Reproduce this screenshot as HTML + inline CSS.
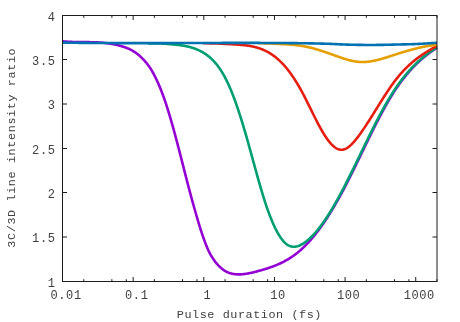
<!DOCTYPE html>
<html><head><meta charset="utf-8"><title>plot</title><style>html,body{margin:0;padding:0;background:#fff;overflow:hidden}</style></head><body>
<svg width="460" height="322" viewBox="0 0 460 322" style="display:block;will-change:transform">
<rect width="460" height="322" fill="#fff"/>
<g fill="none" stroke-width="2.6" stroke-linejoin="round" stroke-linecap="butt">
<path stroke="#9400d3" d="M62.5,41.31 L63.0,41.36 L63.5,41.40 L64.0,41.45 L64.5,41.49 L65.0,41.53 L65.5,41.57 L66.0,41.61 L66.5,41.64 L67.0,41.67 L67.5,41.71 L68.0,41.73 L68.5,41.76 L69.0,41.79 L69.5,41.81 L70.0,41.84 L70.5,41.86 L71.0,41.88 L71.5,41.90 L72.0,41.92 L72.5,41.94 L73.0,41.95 L73.5,41.97 L74.0,41.98 L74.5,41.99 L75.0,42.00 L75.5,42.02 L76.0,42.03 L76.5,42.03 L77.0,42.04 L77.5,42.05 L78.0,42.06 L78.5,42.06 L79.0,42.07 L79.5,42.08 L80.0,42.08 L80.5,42.09 L81.0,42.09 L81.5,42.10 L82.0,42.10 L82.5,42.10 L83.0,42.11 L83.5,42.11 L84.0,42.12 L84.5,42.12 L85.0,42.12 L85.5,42.13 L86.0,42.13 L86.5,42.14 L87.0,42.14 L87.5,42.15 L88.0,42.15 L88.5,42.16 L89.0,42.17 L89.5,42.17 L90.0,42.18 L90.5,42.19 L91.0,42.20 L91.5,42.21 L92.0,42.22 L92.5,42.23 L93.0,42.25 L93.5,42.26 L94.0,42.27 L94.5,42.29 L95.0,42.31 L95.5,42.33 L96.0,42.35 L96.5,42.37 L97.0,42.39 L97.5,42.41 L98.0,42.44 L98.5,42.46 L99.0,42.49 L99.5,42.52 L100.0,42.55 L100.5,42.59 L101.0,42.62 L101.5,42.66 L102.0,42.70 L102.5,42.74 L103.0,42.78 L103.5,42.82 L104.0,42.87 L104.5,42.92 L105.0,42.97 L105.5,43.02 L106.0,43.08 L106.5,43.14 L107.0,43.20 L107.5,43.26 L108.0,43.32 L108.5,43.39 L109.0,43.46 L109.5,43.54 L110.0,43.61 L110.5,43.69 L111.0,43.77 L111.5,43.86 L112.0,43.94 L112.5,44.03 L113.0,44.13 L113.5,44.22 L114.0,44.32 L114.5,44.42 L115.0,44.53 L115.5,44.64 L116.0,44.75 L116.5,44.87 L117.0,44.99 L117.5,45.11 L118.0,45.23 L118.5,45.36 L119.0,45.50 L119.5,45.63 L120.0,45.78 L120.5,45.91 L121.0,46.05 L121.5,46.19 L122.0,46.33 L122.5,46.48 L123.0,46.63 L123.5,46.79 L124.0,46.96 L124.5,47.12 L125.0,47.30 L125.5,47.47 L126.0,47.66 L126.5,47.85 L127.0,48.05 L127.5,48.25 L128.0,48.46 L128.5,48.68 L129.0,48.90 L129.5,49.13 L130.0,49.37 L130.5,49.62 L131.0,49.88 L131.5,50.14 L132.0,50.41 L132.5,50.69 L133.0,50.99 L133.5,51.29 L134.0,51.60 L134.5,51.92 L135.0,52.25 L135.5,52.59 L136.0,52.95 L136.5,53.31 L137.0,53.68 L137.5,54.07 L138.0,54.47 L138.5,54.88 L139.0,55.30 L139.5,55.73 L140.0,56.17 L140.5,56.63 L141.0,57.10 L141.5,57.58 L142.0,58.08 L142.5,58.58 L143.0,59.10 L143.5,59.62 L144.0,60.16 L144.5,60.71 L145.0,61.27 L145.5,61.85 L146.0,62.44 L146.5,63.05 L147.0,63.68 L147.5,64.32 L148.0,64.98 L148.5,65.66 L149.0,66.35 L149.5,67.07 L150.0,67.82 L150.5,68.58 L151.0,69.37 L151.5,70.18 L152.0,71.01 L152.5,71.87 L153.0,72.76 L153.5,73.67 L154.0,74.60 L154.5,75.56 L155.0,76.54 L155.5,77.54 L156.0,78.57 L156.5,79.62 L157.0,80.69 L157.5,81.78 L158.0,82.89 L158.5,84.03 L159.0,85.19 L159.5,86.37 L160.0,87.56 L160.5,88.79 L161.0,90.03 L161.5,91.31 L162.0,92.61 L162.5,93.93 L163.0,95.29 L163.5,96.66 L164.0,98.06 L164.5,99.49 L165.0,100.94 L165.5,102.42 L166.0,103.92 L166.5,105.45 L167.0,107.00 L167.5,108.57 L168.0,110.17 L168.5,111.79 L169.0,113.43 L169.5,115.10 L170.0,116.78 L170.5,118.48 L171.0,120.19 L171.5,121.93 L172.0,123.67 L172.5,125.44 L173.0,127.22 L173.5,129.01 L174.0,130.83 L174.5,132.66 L175.0,134.50 L175.5,136.36 L176.0,138.23 L176.5,140.11 L177.0,142.01 L177.5,143.91 L178.0,145.82 L178.5,147.75 L179.0,149.68 L179.5,151.62 L180.0,153.56 L180.5,155.51 L181.0,157.46 L181.5,159.42 L182.0,161.38 L182.5,163.34 L183.0,165.30 L183.5,167.26 L184.0,169.22 L184.5,171.18 L185.0,173.14 L185.5,175.10 L186.0,177.05 L186.5,178.99 L187.0,180.93 L187.5,182.87 L188.0,184.79 L188.5,186.71 L189.0,188.62 L189.5,190.51 L190.0,192.40 L190.5,194.28 L191.0,196.14 L191.5,197.99 L192.0,199.82 L192.5,201.64 L193.0,203.44 L193.5,205.23 L194.0,207.00 L194.5,208.76 L195.0,210.51 L195.5,212.26 L196.0,214.00 L196.5,215.74 L197.0,217.46 L197.5,219.17 L198.0,220.87 L198.5,222.54 L199.0,224.20 L199.5,225.84 L200.0,227.46 L200.5,229.06 L201.0,230.62 L201.5,232.16 L202.0,233.67 L202.5,235.15 L203.0,236.60 L203.5,238.02 L204.0,239.42 L204.5,240.80 L205.0,242.15 L205.5,243.48 L206.0,244.77 L206.5,246.03 L207.0,247.25 L207.5,248.43 L208.0,249.58 L208.5,250.67 L209.0,251.71 L209.5,252.70 L210.0,253.64 L210.5,254.55 L211.0,255.41 L211.5,256.24 L212.0,257.05 L212.5,257.82 L213.0,258.58 L213.5,259.32 L214.0,260.04 L214.5,260.75 L215.0,261.44 L215.5,262.09 L216.0,262.73 L216.5,263.34 L217.0,263.93 L217.5,264.49 L218.0,265.03 L218.5,265.56 L219.0,266.06 L219.5,266.54 L220.0,267.00 L220.5,267.44 L221.0,267.86 L221.5,268.31 L222.0,268.73 L222.5,269.14 L223.0,269.53 L223.5,269.89 L224.0,270.24 L224.5,270.58 L225.0,270.89 L225.5,271.19 L226.0,271.47 L226.5,271.73 L227.0,271.98 L227.5,272.21 L228.0,272.43 L228.5,272.64 L229.0,272.83 L229.5,273.00 L230.0,273.17 L230.5,273.32 L231.0,273.46 L231.5,273.59 L232.0,273.70 L232.5,273.81 L233.0,273.90 L233.5,273.99 L234.0,274.07 L234.5,274.13 L235.0,274.19 L235.5,274.24 L236.0,274.28 L236.5,274.32 L237.0,274.35 L237.5,274.37 L238.0,274.38 L238.5,274.39 L239.0,274.39 L239.5,274.39 L240.0,274.38 L240.5,274.36 L241.0,274.34 L241.5,274.31 L242.0,274.27 L242.5,274.24 L243.0,274.19 L243.5,274.14 L244.0,274.08 L244.5,274.02 L245.0,273.96 L245.5,273.89 L246.0,273.82 L246.5,273.74 L247.0,273.66 L247.5,273.57 L248.0,273.48 L248.5,273.39 L249.0,273.29 L249.5,273.19 L250.0,273.08 L250.5,272.98 L251.0,272.87 L251.5,272.76 L252.0,272.64 L252.5,272.52 L253.0,272.40 L253.5,272.28 L254.0,272.16 L254.5,272.03 L255.0,271.90 L255.5,271.77 L256.0,271.64 L256.5,271.51 L257.0,271.38 L257.5,271.24 L258.0,271.11 L258.5,270.97 L259.0,270.83 L259.5,270.70 L260.0,270.56 L260.5,270.42 L261.0,270.28 L261.5,270.14 L262.0,269.99 L262.5,269.85 L263.0,269.70 L263.5,269.56 L264.0,269.41 L264.5,269.26 L265.0,269.11 L265.5,268.95 L266.0,268.80 L266.5,268.64 L267.0,268.48 L267.5,268.32 L268.0,268.16 L268.5,268.00 L269.0,267.83 L269.5,267.66 L270.0,267.49 L270.5,267.32 L271.0,267.14 L271.5,266.97 L272.0,266.79 L272.5,266.60 L273.0,266.42 L273.5,266.23 L274.0,266.04 L274.5,265.84 L275.0,265.65 L275.5,265.45 L276.0,265.24 L276.5,265.04 L277.0,264.83 L277.5,264.62 L278.0,264.40 L278.5,264.18 L279.0,263.96 L279.5,263.73 L280.0,263.50 L280.5,263.27 L281.0,263.03 L281.5,262.79 L282.0,262.55 L282.5,262.30 L283.0,262.04 L283.5,261.79 L284.0,261.53 L284.5,261.26 L285.0,260.99 L285.5,260.72 L286.0,260.44 L286.5,260.16 L287.0,259.87 L287.5,259.58 L288.0,259.28 L288.5,258.98 L289.0,258.67 L289.5,258.36 L290.0,258.05 L290.5,257.73 L291.0,257.40 L291.5,257.07 L292.0,256.73 L292.5,256.39 L293.0,256.05 L293.5,255.69 L294.0,255.34 L294.5,254.97 L295.0,254.61 L295.5,254.23 L296.0,253.85 L296.5,253.47 L297.0,253.07 L297.5,252.68 L298.0,252.27 L298.5,251.86 L299.0,251.45 L299.5,251.02 L300.0,250.60 L300.5,250.16 L301.0,249.72 L301.5,249.27 L302.0,248.82 L302.5,248.36 L303.0,247.89 L303.5,247.42 L304.0,246.94 L304.5,246.45 L305.0,245.95 L305.5,245.45 L306.0,244.95 L306.5,244.43 L307.0,243.91 L307.5,243.39 L308.0,242.85 L308.5,242.31 L309.0,241.77 L309.5,241.21 L310.0,240.65 L310.5,240.09 L311.0,239.52 L311.5,238.94 L312.0,238.35 L312.5,237.76 L313.0,237.16 L313.5,236.56 L314.0,235.95 L314.5,235.33 L315.0,234.71 L315.5,234.08 L316.0,233.45 L316.5,232.81 L317.0,232.16 L317.5,231.51 L318.0,230.85 L318.5,230.18 L319.0,229.51 L319.5,228.83 L320.0,228.15 L320.5,227.46 L321.0,226.77 L321.5,226.06 L322.0,225.36 L322.5,224.64 L323.0,223.92 L323.5,223.20 L324.0,222.47 L324.5,221.73 L325.0,220.99 L325.5,220.24 L326.0,219.49 L326.5,218.73 L327.0,217.96 L327.5,217.19 L328.0,216.41 L328.5,215.63 L329.0,214.84 L329.5,214.05 L330.0,213.25 L330.5,212.44 L331.0,211.63 L331.5,210.81 L332.0,209.99 L332.5,209.16 L333.0,208.33 L333.5,207.49 L334.0,206.65 L334.5,205.80 L335.0,204.94 L335.5,204.08 L336.0,203.22 L336.5,202.35 L337.0,201.47 L337.5,200.59 L338.0,199.70 L338.5,198.81 L339.0,197.91 L339.5,197.01 L340.0,196.10 L340.5,195.19 L341.0,194.27 L341.5,193.35 L342.0,192.42 L342.5,191.48 L343.0,190.55 L343.5,189.60 L344.0,188.65 L344.5,187.70 L345.0,186.74 L345.5,185.78 L346.0,184.82 L346.5,183.85 L347.0,182.87 L347.5,181.89 L348.0,180.91 L348.5,179.93 L349.0,178.94 L349.5,177.95 L350.0,176.95 L350.5,175.96 L351.0,174.95 L351.5,173.95 L352.0,172.94 L352.5,171.94 L353.0,170.92 L353.5,169.91 L354.0,168.89 L354.5,167.88 L355.0,166.86 L355.5,165.84 L356.0,164.81 L356.5,163.79 L357.0,162.76 L357.5,161.73 L358.0,160.70 L358.5,159.68 L359.0,158.64 L359.5,157.61 L360.0,156.58 L360.5,155.55 L361.0,154.52 L361.5,153.48 L362.0,152.45 L362.5,151.42 L363.0,150.38 L363.5,149.35 L364.0,148.32 L364.5,147.29 L365.0,146.26 L365.5,145.22 L366.0,144.19 L366.5,143.17 L367.0,142.14 L367.5,141.11 L368.0,140.09 L368.5,139.06 L369.0,138.04 L369.5,137.02 L370.0,136.00 L370.5,134.99 L371.0,133.97 L371.5,132.96 L372.0,131.95 L372.5,130.95 L373.0,129.94 L373.5,128.94 L374.0,127.94 L374.5,126.95 L375.0,125.96 L375.5,124.97 L376.0,123.98 L376.5,123.00 L377.0,122.02 L377.5,121.05 L378.0,120.08 L378.5,119.11 L379.0,118.15 L379.5,117.19 L380.0,116.24 L380.5,115.29 L381.0,114.35 L381.5,113.41 L382.0,112.48 L382.5,111.55 L383.0,110.62 L383.5,109.70 L384.0,108.79 L384.5,107.88 L385.0,106.98 L385.5,106.09 L386.0,105.20 L386.5,104.31 L387.0,103.44 L387.5,102.56 L388.0,101.70 L388.5,100.84 L389.0,99.99 L389.5,99.15 L390.0,98.31 L390.5,97.48 L391.0,96.66 L391.5,95.84 L392.0,95.03 L392.5,94.23 L393.0,93.44 L393.5,92.65 L394.0,91.88 L394.5,91.11 L395.0,90.34 L395.5,89.59 L396.0,88.84 L396.5,88.10 L397.0,87.36 L397.5,86.64 L398.0,85.92 L398.5,85.21 L399.0,84.50 L399.5,83.80 L400.0,83.11 L400.5,82.43 L401.0,81.75 L401.5,81.08 L402.0,80.42 L402.5,79.76 L403.0,79.11 L403.5,78.47 L404.0,77.83 L404.5,77.20 L405.0,76.57 L405.5,75.96 L406.0,75.34 L406.5,74.74 L407.0,74.14 L407.5,73.55 L408.0,72.96 L408.5,72.38 L409.0,71.81 L409.5,71.24 L410.0,70.67 L410.5,70.12 L411.0,69.57 L411.5,69.02 L412.0,68.48 L412.5,67.95 L413.0,67.42 L413.5,66.90 L414.0,66.38 L414.5,65.87 L415.0,65.37 L415.5,64.86 L416.0,64.37 L416.5,63.88 L417.0,63.40 L417.5,62.92 L418.0,62.44 L418.5,61.97 L419.0,61.51 L419.5,61.05 L420.0,60.60 L420.5,60.15 L421.0,59.70 L421.5,59.27 L422.0,58.83 L422.5,58.40 L423.0,57.98 L423.5,57.56 L424.0,57.14 L424.5,56.73 L425.0,56.32 L425.5,55.92 L426.0,55.52 L426.5,55.13 L427.0,54.74 L427.5,54.35 L428.0,53.97 L428.5,53.60 L429.0,53.22 L429.5,52.85 L430.0,52.49 L430.5,52.13 L431.0,51.77 L431.5,51.42 L432.0,51.07 L432.5,50.72 L433.0,50.38 L433.5,50.04 L434.0,49.71 L434.5,49.38 L435.0,49.05 L435.5,48.72 L436.0,48.40 L436.5,48.09 L437.0,47.77"/>
<path stroke="#009e73" d="M148.0,43.46 L148.5,43.46 L149.0,43.46 L149.5,43.46 L150.0,43.45 L150.5,43.45 L151.0,43.44 L151.5,43.44 L152.0,43.43 L152.5,43.42 L153.0,43.42 L153.5,43.41 L154.0,43.41 L154.5,43.41 L155.0,43.40 L155.5,43.40 L156.0,43.40 L156.5,43.40 L157.0,43.41 L157.5,43.41 L158.0,43.42 L158.5,43.43 L159.0,43.44 L159.5,43.45 L160.0,43.47 L160.5,43.48 L161.0,43.50 L161.5,43.52 L162.0,43.55 L162.5,43.58 L163.0,43.60 L163.5,43.64 L164.0,43.67 L164.5,43.70 L165.0,43.74 L165.5,43.78 L166.0,43.82 L166.5,43.86 L167.0,43.90 L167.5,43.95 L168.0,43.99 L168.5,44.04 L169.0,44.08 L169.5,44.12 L170.0,44.17 L170.5,44.21 L171.0,44.25 L171.5,44.30 L172.0,44.34 L172.5,44.39 L173.0,44.44 L173.5,44.48 L174.0,44.53 L174.5,44.58 L175.0,44.63 L175.5,44.68 L176.0,44.74 L176.5,44.79 L177.0,44.84 L177.5,44.90 L178.0,44.96 L178.5,45.02 L179.0,45.08 L179.5,45.14 L180.0,45.20 L180.5,45.27 L181.0,45.34 L181.5,45.41 L182.0,45.49 L182.5,45.56 L183.0,45.64 L183.5,45.73 L184.0,45.81 L184.5,45.90 L185.0,45.99 L185.5,46.09 L186.0,46.19 L186.5,46.29 L187.0,46.39 L187.5,46.50 L188.0,46.62 L188.5,46.73 L189.0,46.86 L189.5,46.98 L190.0,47.11 L190.5,47.25 L191.0,47.39 L191.5,47.53 L192.0,47.68 L192.5,47.84 L193.0,48.00 L193.5,48.17 L194.0,48.34 L194.5,48.51 L195.0,48.70 L195.5,48.88 L196.0,49.08 L196.5,49.28 L197.0,49.48 L197.5,49.70 L198.0,49.92 L198.5,50.14 L199.0,50.37 L199.5,50.61 L200.0,50.86 L200.5,51.11 L201.0,51.37 L201.5,51.64 L202.0,51.92 L202.5,52.20 L203.0,52.49 L203.5,52.79 L204.0,53.09 L204.5,53.41 L205.0,53.73 L205.5,54.06 L206.0,54.40 L206.5,54.76 L207.0,55.12 L207.5,55.49 L208.0,55.87 L208.5,56.26 L209.0,56.67 L209.5,57.08 L210.0,57.51 L210.5,57.95 L211.0,58.40 L211.5,58.87 L212.0,59.35 L212.5,59.84 L213.0,60.34 L213.5,60.86 L214.0,61.40 L214.5,61.95 L215.0,62.51 L215.5,63.09 L216.0,63.68 L216.5,64.29 L217.0,64.92 L217.5,65.56 L218.0,66.22 L218.5,66.90 L219.0,67.59 L219.5,68.31 L220.0,69.04 L220.5,69.79 L221.0,70.56 L221.5,71.34 L222.0,72.15 L222.5,72.97 L223.0,73.82 L223.5,74.69 L224.0,75.57 L224.5,76.48 L225.0,77.41 L225.5,78.36 L226.0,79.33 L226.5,80.33 L227.0,81.35 L227.5,82.39 L228.0,83.45 L228.5,84.54 L229.0,85.65 L229.5,86.78 L230.0,87.93 L230.5,89.11 L231.0,90.31 L231.5,91.53 L232.0,92.78 L232.5,94.04 L233.0,95.33 L233.5,96.63 L234.0,97.96 L234.5,99.30 L235.0,100.67 L235.5,102.06 L236.0,103.46 L236.5,104.89 L237.0,106.33 L237.5,107.79 L238.0,109.27 L238.5,110.77 L239.0,112.28 L239.5,113.81 L240.0,115.36 L240.5,116.93 L241.0,118.51 L241.5,120.11 L242.0,121.72 L242.5,123.35 L243.0,125.00 L243.5,126.66 L244.0,128.34 L244.5,130.03 L245.0,131.73 L245.5,133.45 L246.0,135.18 L246.5,136.93 L247.0,138.68 L247.5,140.45 L248.0,142.22 L248.5,144.01 L249.0,145.80 L249.5,147.60 L250.0,149.40 L250.5,151.21 L251.0,153.03 L251.5,154.85 L252.0,156.67 L252.5,158.49 L253.0,160.31 L253.5,162.13 L254.0,163.95 L254.5,165.77 L255.0,167.58 L255.5,169.39 L256.0,171.20 L256.5,173.00 L257.0,174.79 L257.5,176.58 L258.0,178.35 L258.5,180.12 L259.0,181.88 L259.5,183.62 L260.0,185.35 L260.5,187.07 L261.0,188.78 L261.5,190.47 L262.0,192.14 L262.5,193.80 L263.0,195.44 L263.5,197.06 L264.0,198.66 L264.5,200.24 L265.0,201.80 L265.5,203.33 L266.0,204.85 L266.5,206.34 L267.0,207.80 L267.5,209.24 L268.0,210.65 L268.5,212.04 L269.0,213.40 L269.5,214.74 L270.0,216.05 L270.5,217.33 L271.0,218.59 L271.5,219.82 L272.0,221.03 L272.5,222.21 L273.0,223.36 L273.5,224.48 L274.0,225.58 L274.5,226.66 L275.0,227.70 L275.5,228.72 L276.0,229.71 L276.5,230.68 L277.0,231.62 L277.5,232.53 L278.0,233.41 L278.5,234.26 L279.0,235.09 L279.5,235.89 L280.0,236.66 L280.5,237.40 L281.0,238.12 L281.5,238.81 L282.0,239.46 L282.5,240.09 L283.0,240.70 L283.5,241.27 L284.0,241.81 L284.5,242.33 L285.0,242.81 L285.5,243.27 L286.0,243.70 L286.5,244.09 L287.0,244.46 L287.5,244.80 L288.0,245.11 L288.5,245.39 L289.0,245.64 L289.5,245.87 L290.0,246.07 L290.5,246.24 L291.0,246.38 L291.5,246.50 L292.0,246.60 L292.5,246.67 L293.0,246.72 L293.5,246.75 L294.0,246.75 L294.5,246.73 L295.0,246.69 L295.5,246.63 L296.0,246.55 L296.5,246.45 L297.0,246.33 L297.5,246.19 L298.0,246.04 L298.5,245.86 L299.0,245.67 L299.5,245.47 L300.0,245.25 L300.5,245.01 L301.0,244.76 L301.5,244.50 L302.0,244.22 L302.5,243.93 L303.0,243.63 L303.5,243.31 L304.0,242.99 L304.5,242.65 L305.0,242.30 L305.5,241.94 L306.0,241.57 L306.5,241.19 L307.0,240.79 L307.5,240.39 L308.0,239.97 L308.5,239.55 L309.0,239.11 L309.5,238.66 L310.0,238.21 L310.5,237.74 L311.0,237.26 L311.5,236.77 L312.0,236.27 L312.5,235.76 L313.0,235.24 L313.5,234.71 L314.0,234.18 L314.5,233.63 L315.0,233.07 L315.5,232.50 L316.0,231.92 L316.5,231.34 L317.0,230.74 L317.5,230.14 L318.0,229.52 L318.5,228.90 L319.0,228.27 L319.5,227.63 L320.0,226.98 L320.5,226.32 L321.0,225.65 L321.5,224.97 L322.0,224.29 L322.5,223.60 L323.0,222.90 L323.5,222.19 L324.0,221.47 L324.5,220.75 L325.0,220.02 L325.5,219.28 L326.0,218.53 L326.5,217.78 L327.0,217.01 L327.5,216.24 L328.0,215.47 L328.5,214.68 L329.0,213.89 L329.5,213.09 L330.0,212.29 L330.5,211.47 L331.0,210.65 L331.5,209.83 L332.0,209.00 L332.5,208.16 L333.0,207.31 L333.5,206.46 L334.0,205.60 L334.5,204.74 L335.0,203.87 L335.5,202.99 L336.0,202.11 L336.5,201.22 L337.0,200.33 L337.5,199.43 L338.0,198.53 L338.5,197.62 L339.0,196.70 L339.5,195.78 L340.0,194.85 L340.5,193.92 L341.0,192.99 L341.5,192.05 L342.0,191.10 L342.5,190.15 L343.0,189.20 L343.5,188.24 L344.0,187.28 L344.5,186.31 L345.0,185.34 L345.5,184.36 L346.0,183.38 L346.5,182.40 L347.0,181.42 L347.5,180.43 L348.0,179.43 L348.5,178.44 L349.0,177.44 L349.5,176.44 L350.0,175.43 L350.5,174.42 L351.0,173.41 L351.5,172.40 L352.0,171.39 L352.5,170.37 L353.0,169.35 L353.5,168.33 L354.0,167.31 L354.5,166.29 L355.0,165.26 L355.5,164.23 L356.0,163.21 L356.5,162.18 L357.0,161.15 L357.5,160.11 L358.0,159.08 L358.5,158.05 L359.0,157.02 L359.5,155.98 L360.0,154.95 L360.5,153.91 L361.0,152.88 L361.5,151.85 L362.0,150.81 L362.5,149.78 L363.0,148.74 L363.5,147.71 L364.0,146.68 L364.5,145.65 L365.0,144.62 L365.5,143.59 L366.0,142.56 L366.5,141.53 L367.0,140.51 L367.5,139.49 L368.0,138.46 L368.5,137.44 L369.0,136.43 L369.5,135.41 L370.0,134.40 L370.5,133.38 L371.0,132.37 L371.5,131.37 L372.0,130.36 L372.5,129.36 L373.0,128.36 L373.5,127.37 L374.0,126.38 L374.5,125.39 L375.0,124.40 L375.5,123.42 L376.0,122.44 L376.5,121.47 L377.0,120.50 L377.5,119.53 L378.0,118.57 L378.5,117.61 L379.0,116.66 L379.5,115.71 L380.0,114.77 L380.5,113.83 L381.0,112.89 L381.5,111.96 L382.0,111.04 L382.5,110.12 L383.0,109.21 L383.5,108.30 L384.0,107.40 L384.5,106.50 L385.0,105.61 L385.5,104.73 L386.0,103.85 L386.5,102.97 L387.0,102.11 L387.5,101.25 L388.0,100.40 L388.5,99.55 L389.0,98.71 L389.5,97.88 L390.0,97.06 L390.5,96.24 L391.0,95.43 L391.5,94.63 L392.0,93.83 L392.5,93.04 L393.0,92.26 L393.5,91.49 L394.0,90.73 L394.5,89.97 L395.0,89.22 L395.5,88.48 L396.0,87.74 L396.5,87.01 L397.0,86.29 L397.5,85.58 L398.0,84.87 L398.5,84.17 L399.0,83.47 L399.5,82.79 L400.0,82.11 L400.5,81.44 L401.0,80.77 L401.5,80.11 L402.0,79.46 L402.5,78.81 L403.0,78.17 L403.5,77.54 L404.0,76.91 L404.5,76.29 L405.0,75.67 L405.5,75.07 L406.0,74.47 L406.5,73.87 L407.0,73.28 L407.5,72.70 L408.0,72.12 L408.5,71.55 L409.0,70.98 L409.5,70.42 L410.0,69.87 L410.5,69.32 L411.0,68.78 L411.5,68.24 L412.0,67.71 L412.5,67.19 L413.0,66.67 L413.5,66.15 L414.0,65.65 L414.5,65.14 L415.0,64.64 L415.5,64.15 L416.0,63.66 L416.5,63.18 L417.0,62.70 L417.5,62.23 L418.0,61.77 L418.5,61.30 L419.0,60.85 L419.5,60.40 L420.0,59.95 L420.5,59.51 L421.0,59.07 L421.5,58.64 L422.0,58.21 L422.5,57.78 L423.0,57.36 L423.5,56.95 L424.0,56.54 L424.5,56.13 L425.0,55.73 L425.5,55.34 L426.0,54.94 L426.5,54.55 L427.0,54.17 L427.5,53.79 L428.0,53.41 L428.5,53.04 L429.0,52.67 L429.5,52.31 L430.0,51.95 L430.5,51.59 L431.0,51.24 L431.5,50.89 L432.0,50.55 L432.5,50.20 L433.0,49.87 L433.5,49.53 L434.0,49.20 L434.5,48.87 L435.0,48.55 L435.5,48.23 L436.0,47.91 L436.5,47.59 L437.0,47.28"/>
<path stroke="#e51e10" d="M203.0,43.32 L203.5,43.32 L204.0,43.32 L204.5,43.32 L205.0,43.32 L205.5,43.32 L206.0,43.32 L206.5,43.32 L207.0,43.32 L207.5,43.32 L208.0,43.32 L208.5,43.32 L209.0,43.32 L209.5,43.33 L210.0,43.33 L210.5,43.34 L211.0,43.34 L211.5,43.35 L212.0,43.36 L212.5,43.37 L213.0,43.38 L213.5,43.39 L214.0,43.40 L214.5,43.41 L215.0,43.43 L215.5,43.44 L216.0,43.46 L216.5,43.48 L217.0,43.50 L217.5,43.52 L218.0,43.54 L218.5,43.56 L219.0,43.59 L219.5,43.61 L220.0,43.64 L220.5,43.66 L221.0,43.69 L221.5,43.72 L222.0,43.75 L222.5,43.77 L223.0,43.80 L223.5,43.83 L224.0,43.86 L224.5,43.89 L225.0,43.92 L225.5,43.95 L226.0,43.98 L226.5,44.01 L227.0,44.03 L227.5,44.06 L228.0,44.08 L228.5,44.11 L229.0,44.13 L229.5,44.16 L230.0,44.18 L230.5,44.21 L231.0,44.23 L231.5,44.26 L232.0,44.29 L232.5,44.31 L233.0,44.34 L233.5,44.37 L234.0,44.40 L234.5,44.43 L235.0,44.45 L235.5,44.48 L236.0,44.51 L236.5,44.55 L237.0,44.58 L237.5,44.61 L238.0,44.64 L238.5,44.68 L239.0,44.71 L239.5,44.75 L240.0,44.79 L240.5,44.83 L241.0,44.87 L241.5,44.91 L242.0,44.96 L242.5,45.00 L243.0,45.05 L243.5,45.10 L244.0,45.15 L244.5,45.21 L245.0,45.26 L245.5,45.32 L246.0,45.39 L246.5,45.45 L247.0,45.52 L247.5,45.59 L248.0,45.66 L248.5,45.74 L249.0,45.82 L249.5,45.90 L250.0,45.99 L250.5,46.07 L251.0,46.17 L251.5,46.26 L252.0,46.36 L252.5,46.47 L253.0,46.58 L253.5,46.69 L254.0,46.81 L254.5,46.93 L255.0,47.05 L255.5,47.18 L256.0,47.32 L256.5,47.45 L257.0,47.60 L257.5,47.75 L258.0,47.90 L258.5,48.06 L259.0,48.22 L259.5,48.39 L260.0,48.56 L260.5,48.74 L261.0,48.93 L261.5,49.12 L262.0,49.32 L262.5,49.52 L263.0,49.73 L263.5,49.94 L264.0,50.16 L264.5,50.39 L265.0,50.62 L265.5,50.86 L266.0,51.11 L266.5,51.36 L267.0,51.62 L267.5,51.89 L268.0,52.16 L268.5,52.44 L269.0,52.73 L269.5,53.03 L270.0,53.33 L270.5,53.64 L271.0,53.96 L271.5,54.28 L272.0,54.62 L272.5,54.96 L273.0,55.31 L273.5,55.66 L274.0,56.03 L274.5,56.40 L275.0,56.78 L275.5,57.18 L276.0,57.57 L276.5,57.98 L277.0,58.40 L277.5,58.82 L278.0,59.26 L278.5,59.70 L279.0,60.16 L279.5,60.62 L280.0,61.09 L280.5,61.57 L281.0,62.06 L281.5,62.56 L282.0,63.07 L282.5,63.59 L283.0,64.12 L283.5,64.66 L284.0,65.21 L284.5,65.77 L285.0,66.34 L285.5,66.92 L286.0,67.51 L286.5,68.12 L287.0,68.73 L287.5,69.35 L288.0,69.98 L288.5,70.63 L289.0,71.28 L289.5,71.94 L290.0,72.62 L290.5,73.30 L291.0,74.00 L291.5,74.70 L292.0,75.42 L292.5,76.14 L293.0,76.88 L293.5,77.63 L294.0,78.38 L294.5,79.15 L295.0,79.93 L295.5,80.71 L296.0,81.51 L296.5,82.32 L297.0,83.14 L297.5,83.97 L298.0,84.80 L298.5,85.65 L299.0,86.51 L299.5,87.38 L300.0,88.26 L300.5,89.15 L301.0,90.05 L301.5,90.96 L302.0,91.88 L302.5,92.82 L303.0,93.76 L303.5,94.71 L304.0,95.67 L304.5,96.63 L305.0,97.61 L305.5,98.59 L306.0,99.58 L306.5,100.57 L307.0,101.57 L307.5,102.57 L308.0,103.58 L308.5,104.59 L309.0,105.60 L309.5,106.62 L310.0,107.63 L310.5,108.65 L311.0,109.67 L311.5,110.69 L312.0,111.70 L312.5,112.72 L313.0,113.73 L313.5,114.74 L314.0,115.74 L314.5,116.74 L315.0,117.74 L315.5,118.73 L316.0,119.72 L316.5,120.70 L317.0,121.67 L317.5,122.63 L318.0,123.59 L318.5,124.54 L319.0,125.47 L319.5,126.40 L320.0,127.32 L320.5,128.22 L321.0,129.12 L321.5,130.00 L322.0,130.87 L322.5,131.72 L323.0,132.56 L323.5,133.39 L324.0,134.20 L324.5,134.99 L325.0,135.78 L325.5,136.54 L326.0,137.29 L326.5,138.02 L327.0,138.73 L327.5,139.43 L328.0,140.10 L328.5,140.76 L329.0,141.40 L329.5,142.02 L330.0,142.62 L330.5,143.20 L331.0,143.75 L331.5,144.29 L332.0,144.80 L332.5,145.29 L333.0,145.76 L333.5,146.20 L334.0,146.63 L334.5,147.02 L335.0,147.39 L335.5,147.74 L336.0,148.06 L336.5,148.36 L337.0,148.62 L337.5,148.86 L338.0,149.08 L338.5,149.26 L339.0,149.42 L339.5,149.55 L340.0,149.65 L340.5,149.72 L341.0,149.76 L341.5,149.77 L342.0,149.75 L342.5,149.70 L343.0,149.62 L343.5,149.51 L344.0,149.37 L344.5,149.21 L345.0,149.02 L345.5,148.81 L346.0,148.56 L346.5,148.30 L347.0,148.01 L347.5,147.70 L348.0,147.36 L348.5,147.01 L349.0,146.63 L349.5,146.23 L350.0,145.81 L350.5,145.37 L351.0,144.91 L351.5,144.44 L352.0,143.94 L352.5,143.43 L353.0,142.90 L353.5,142.36 L354.0,141.80 L354.5,141.23 L355.0,140.64 L355.5,140.04 L356.0,139.43 L356.5,138.80 L357.0,138.17 L357.5,137.52 L358.0,136.86 L358.5,136.20 L359.0,135.52 L359.5,134.84 L360.0,134.14 L360.5,133.45 L361.0,132.74 L361.5,132.03 L362.0,131.31 L362.5,130.59 L363.0,129.86 L363.5,129.12 L364.0,128.38 L364.5,127.63 L365.0,126.88 L365.5,126.13 L366.0,125.37 L366.5,124.60 L367.0,123.83 L367.5,123.06 L368.0,122.29 L368.5,121.51 L369.0,120.72 L369.5,119.94 L370.0,119.15 L370.5,118.36 L371.0,117.57 L371.5,116.77 L372.0,115.97 L372.5,115.17 L373.0,114.37 L373.5,113.57 L374.0,112.77 L374.5,111.96 L375.0,111.16 L375.5,110.35 L376.0,109.55 L376.5,108.74 L377.0,107.93 L377.5,107.13 L378.0,106.32 L378.5,105.52 L379.0,104.72 L379.5,103.91 L380.0,103.11 L380.5,102.31 L381.0,101.52 L381.5,100.72 L382.0,99.93 L382.5,99.14 L383.0,98.35 L383.5,97.56 L384.0,96.78 L384.5,96.00 L385.0,95.23 L385.5,94.46 L386.0,93.69 L386.5,92.92 L387.0,92.16 L387.5,91.41 L388.0,90.66 L388.5,89.91 L389.0,89.17 L389.5,88.44 L390.0,87.71 L390.5,86.99 L391.0,86.27 L391.5,85.56 L392.0,84.85 L392.5,84.15 L393.0,83.46 L393.5,82.78 L394.0,82.10 L394.5,81.43 L395.0,80.77 L395.5,80.12 L396.0,79.47 L396.5,78.83 L397.0,78.20 L397.5,77.58 L398.0,76.97 L398.5,76.36 L399.0,75.76 L399.5,75.17 L400.0,74.58 L400.5,74.01 L401.0,73.44 L401.5,72.87 L402.0,72.32 L402.5,71.77 L403.0,71.23 L403.5,70.69 L404.0,70.16 L404.5,69.64 L405.0,69.13 L405.5,68.62 L406.0,68.12 L406.5,67.62 L407.0,67.13 L407.5,66.65 L408.0,66.17 L408.5,65.70 L409.0,65.23 L409.5,64.77 L410.0,64.32 L410.5,63.87 L411.0,63.43 L411.5,62.99 L412.0,62.56 L412.5,62.13 L413.0,61.71 L413.5,61.29 L414.0,60.88 L414.5,60.48 L415.0,60.07 L415.5,59.68 L416.0,59.28 L416.5,58.90 L417.0,58.51 L417.5,58.14 L418.0,57.76 L418.5,57.39 L419.0,57.03 L419.5,56.66 L420.0,56.31 L420.5,55.95 L421.0,55.60 L421.5,55.26 L422.0,54.91 L422.5,54.57 L423.0,54.24 L423.5,53.91 L424.0,53.58 L424.5,53.25 L425.0,52.93 L425.5,52.61 L426.0,52.30 L426.5,51.98 L427.0,51.67 L427.5,51.36 L428.0,51.06 L428.5,50.76 L429.0,50.46 L429.5,50.16 L430.0,49.86 L430.5,49.57 L431.0,49.28 L431.5,48.99 L432.0,48.70 L432.5,48.42 L433.0,48.13 L433.5,47.85 L434.0,47.57 L434.5,47.29 L435.0,47.02 L435.5,46.74 L436.0,46.47 L436.5,46.20 L437.0,45.92"/>
<path stroke="#e69f00" d="M258.0,43.27 L258.5,43.27 L259.0,43.27 L259.5,43.28 L260.0,43.28 L260.5,43.28 L261.0,43.29 L261.5,43.29 L262.0,43.30 L262.5,43.30 L263.0,43.31 L263.5,43.32 L264.0,43.33 L264.5,43.34 L265.0,43.35 L265.5,43.36 L266.0,43.37 L266.5,43.39 L267.0,43.40 L267.5,43.42 L268.0,43.43 L268.5,43.45 L269.0,43.47 L269.5,43.49 L270.0,43.51 L270.5,43.53 L271.0,43.55 L271.5,43.58 L272.0,43.60 L272.5,43.63 L273.0,43.65 L273.5,43.68 L274.0,43.71 L274.5,43.73 L275.0,43.76 L275.5,43.79 L276.0,43.82 L276.5,43.84 L277.0,43.87 L277.5,43.90 L278.0,43.93 L278.5,43.96 L279.0,43.98 L279.5,44.01 L280.0,44.03 L280.5,44.06 L281.0,44.08 L281.5,44.11 L282.0,44.13 L282.5,44.15 L283.0,44.17 L283.5,44.19 L284.0,44.22 L284.5,44.24 L285.0,44.27 L285.5,44.29 L286.0,44.32 L286.5,44.35 L287.0,44.37 L287.5,44.40 L288.0,44.43 L288.5,44.47 L289.0,44.50 L289.5,44.53 L290.0,44.57 L290.5,44.61 L291.0,44.65 L291.5,44.69 L292.0,44.73 L292.5,44.77 L293.0,44.81 L293.5,44.86 L294.0,44.91 L294.5,44.96 L295.0,45.01 L295.5,45.06 L296.0,45.12 L296.5,45.17 L297.0,45.23 L297.5,45.29 L298.0,45.36 L298.5,45.42 L299.0,45.49 L299.5,45.56 L300.0,45.63 L300.5,45.70 L301.0,45.78 L301.5,45.86 L302.0,45.94 L302.5,46.02 L303.0,46.11 L303.5,46.19 L304.0,46.29 L304.5,46.38 L305.0,46.48 L305.5,46.57 L306.0,46.68 L306.5,46.78 L307.0,46.89 L307.5,47.00 L308.0,47.11 L308.5,47.22 L309.0,47.34 L309.5,47.46 L310.0,47.58 L310.5,47.70 L311.0,47.83 L311.5,47.95 L312.0,48.08 L312.5,48.21 L313.0,48.35 L313.5,48.48 L314.0,48.62 L314.5,48.76 L315.0,48.90 L315.5,49.04 L316.0,49.19 L316.5,49.34 L317.0,49.48 L317.5,49.63 L318.0,49.79 L318.5,49.94 L319.0,50.09 L319.5,50.25 L320.0,50.41 L320.5,50.56 L321.0,50.72 L321.5,50.89 L322.0,51.05 L322.5,51.21 L323.0,51.38 L323.5,51.54 L324.0,51.71 L324.5,51.88 L325.0,52.05 L325.5,52.22 L326.0,52.39 L326.5,52.56 L327.0,52.73 L327.5,52.90 L328.0,53.08 L328.5,53.25 L329.0,53.43 L329.5,53.60 L330.0,53.78 L330.5,53.96 L331.0,54.13 L331.5,54.31 L332.0,54.49 L332.5,54.67 L333.0,54.84 L333.5,55.02 L334.0,55.20 L334.5,55.38 L335.0,55.55 L335.5,55.73 L336.0,55.91 L336.5,56.08 L337.0,56.26 L337.5,56.43 L338.0,56.60 L338.5,56.78 L339.0,56.95 L339.5,57.12 L340.0,57.28 L340.5,57.46 L341.0,57.64 L341.5,57.81 L342.0,57.98 L342.5,58.15 L343.0,58.32 L343.5,58.49 L344.0,58.65 L344.5,58.81 L345.0,58.97 L345.5,59.12 L346.0,59.28 L346.5,59.43 L347.0,59.57 L347.5,59.72 L348.0,59.86 L348.5,59.99 L349.0,60.13 L349.5,60.26 L350.0,60.38 L350.5,60.51 L351.0,60.63 L351.5,60.74 L352.0,60.85 L352.5,60.96 L353.0,61.06 L353.5,61.16 L354.0,61.25 L354.5,61.34 L355.0,61.43 L355.5,61.51 L356.0,61.58 L356.5,61.65 L357.0,61.72 L357.5,61.78 L358.0,61.83 L358.5,61.88 L359.0,61.92 L359.5,61.96 L360.0,61.99 L360.5,62.02 L361.0,62.04 L361.5,62.05 L362.0,62.06 L362.5,62.06 L363.0,62.06 L363.5,62.05 L364.0,62.03 L364.5,62.01 L365.0,61.99 L365.5,61.96 L366.0,61.92 L366.5,61.88 L367.0,61.83 L367.5,61.78 L368.0,61.73 L368.5,61.67 L369.0,61.61 L369.5,61.54 L370.0,61.47 L370.5,61.39 L371.0,61.31 L371.5,61.22 L372.0,61.14 L372.5,61.04 L373.0,60.95 L373.5,60.85 L374.0,60.75 L374.5,60.64 L375.0,60.53 L375.5,60.42 L376.0,60.31 L376.5,60.19 L377.0,60.07 L377.5,59.95 L378.0,59.82 L378.5,59.69 L379.0,59.56 L379.5,59.43 L380.0,59.30 L380.5,59.16 L381.0,59.02 L381.5,58.88 L382.0,58.74 L382.5,58.60 L383.0,58.45 L383.5,58.30 L384.0,58.15 L384.5,58.00 L385.0,57.85 L385.5,57.70 L386.0,57.54 L386.5,57.39 L387.0,57.23 L387.5,57.08 L388.0,56.92 L388.5,56.76 L389.0,56.60 L389.5,56.44 L390.0,56.28 L390.5,56.11 L391.0,55.95 L391.5,55.79 L392.0,55.63 L392.5,55.46 L393.0,55.30 L393.5,55.13 L394.0,54.97 L394.5,54.81 L395.0,54.64 L395.5,54.48 L396.0,54.32 L396.5,54.16 L397.0,54.00 L397.5,53.84 L398.0,53.68 L398.5,53.52 L399.0,53.37 L399.5,53.21 L400.0,53.06 L400.5,52.90 L401.0,52.75 L401.5,52.60 L402.0,52.45 L402.5,52.30 L403.0,52.15 L403.5,52.00 L404.0,51.85 L404.5,51.70 L405.0,51.56 L405.5,51.41 L406.0,51.27 L406.5,51.12 L407.0,50.98 L407.5,50.84 L408.0,50.70 L408.5,50.56 L409.0,50.42 L409.5,50.28 L410.0,50.14 L410.5,50.01 L411.0,49.87 L411.5,49.74 L412.0,49.60 L412.5,49.47 L413.0,49.34 L413.5,49.20 L414.0,49.07 L414.5,48.94 L415.0,48.81 L415.5,48.69 L416.0,48.56 L416.5,48.43 L417.0,48.31 L417.5,48.18 L418.0,48.06 L418.5,47.94 L419.0,47.82 L419.5,47.70 L420.0,47.58 L420.5,47.47 L421.0,47.36 L421.5,47.25 L422.0,47.14 L422.5,47.03 L423.0,46.92 L423.5,46.82 L424.0,46.71 L424.5,46.61 L425.0,46.52 L425.5,46.42 L426.0,46.33 L426.5,46.24 L427.0,46.15 L427.5,46.06 L428.0,45.98 L428.5,45.89 L429.0,45.81 L429.5,45.74 L430.0,45.66 L430.5,45.59 L431.0,45.52 L431.5,45.46 L432.0,45.40 L432.5,45.34 L433.0,45.28 L433.5,45.22 L434.0,45.17 L434.5,45.13 L435.0,45.08 L435.5,45.04 L436.0,45.00 L436.5,44.97 L437.0,44.94"/>
<path stroke="#0072b2" d="M62.5,42.61 L63.0,42.62 L63.5,42.63 L64.0,42.64 L64.5,42.64 L65.0,42.65 L65.5,42.66 L66.0,42.67 L66.5,42.67 L67.0,42.68 L67.5,42.69 L68.0,42.69 L68.5,42.70 L69.0,42.71 L69.5,42.72 L70.0,42.72 L70.5,42.73 L71.0,42.74 L71.5,42.74 L72.0,42.75 L72.5,42.75 L73.0,42.76 L73.5,42.77 L74.0,42.77 L74.5,42.78 L75.0,42.79 L75.5,42.79 L76.0,42.80 L76.5,42.80 L77.0,42.81 L77.5,42.82 L78.0,42.82 L78.5,42.83 L79.0,42.83 L79.5,42.84 L80.0,42.84 L80.5,42.85 L81.0,42.85 L81.5,42.86 L82.0,42.86 L82.5,42.87 L83.0,42.87 L83.5,42.88 L84.0,42.88 L84.5,42.89 L85.0,42.89 L85.5,42.90 L86.0,42.90 L86.5,42.91 L87.0,42.91 L87.5,42.92 L88.0,42.92 L88.5,42.93 L89.0,42.93 L89.5,42.93 L90.0,42.94 L90.5,42.94 L91.0,42.95 L91.5,42.95 L92.0,42.95 L92.5,42.96 L93.0,42.96 L93.5,42.97 L94.0,42.97 L94.5,42.97 L95.0,42.98 L95.5,42.98 L96.0,42.98 L96.5,42.99 L97.0,42.99 L97.5,42.99 L98.0,43.00 L98.5,43.00 L99.0,43.00 L99.5,43.01 L100.0,43.01 L100.5,43.01 L101.0,43.02 L101.5,43.02 L102.0,43.02 L102.5,43.03 L103.0,43.03 L103.5,43.03 L104.0,43.03 L104.5,43.04 L105.0,43.04 L105.5,43.04 L106.0,43.04 L106.5,43.05 L107.0,43.05 L107.5,43.05 L108.0,43.05 L108.5,43.06 L109.0,43.06 L109.5,43.06 L110.0,43.06 L110.5,43.07 L111.0,43.07 L111.5,43.07 L112.0,43.07 L112.5,43.07 L113.0,43.07 L113.5,43.08 L114.0,43.08 L114.5,43.08 L115.0,43.08 L115.5,43.08 L116.0,43.09 L116.5,43.09 L117.0,43.09 L117.5,43.09 L118.0,43.09 L118.5,43.09 L119.0,43.09 L119.5,43.10 L120.0,43.10 L120.5,43.10 L121.0,43.10 L121.5,43.10 L122.0,43.10 L122.5,43.10 L123.0,43.10 L123.5,43.10 L124.0,43.11 L124.5,43.11 L125.0,43.11 L125.5,43.11 L126.0,43.11 L126.5,43.11 L127.0,43.11 L127.5,43.11 L128.0,43.11 L128.5,43.11 L129.0,43.11 L129.5,43.11 L130.0,43.11 L130.5,43.11 L131.0,43.12 L131.5,43.12 L132.0,43.12 L132.5,43.12 L133.0,43.12 L133.5,43.12 L134.0,43.12 L134.5,43.12 L135.0,43.12 L135.5,43.12 L136.0,43.12 L136.5,43.12 L137.0,43.12 L137.5,43.12 L138.0,43.12 L138.5,43.12 L139.0,43.12 L139.5,43.12 L140.0,43.12 L140.5,43.12 L141.0,43.12 L141.5,43.12 L142.0,43.12 L142.5,43.12 L143.0,43.12 L143.5,43.12 L144.0,43.12 L144.5,43.12 L145.0,43.12 L145.5,43.12 L146.0,43.11 L146.5,43.11 L147.0,43.11 L147.5,43.11 L148.0,43.11 L148.5,43.11 L149.0,43.11 L149.5,43.11 L150.0,43.11 L150.5,43.11 L151.0,43.11 L151.5,43.11 L152.0,43.11 L152.5,43.11 L153.0,43.11 L153.5,43.11 L154.0,43.10 L154.5,43.10 L155.0,43.10 L155.5,43.10 L156.0,43.10 L156.5,43.10 L157.0,43.10 L157.5,43.10 L158.0,43.10 L158.5,43.10 L159.0,43.10 L159.5,43.09 L160.0,43.09 L160.5,43.09 L161.0,43.09 L161.5,43.09 L162.0,43.09 L162.5,43.09 L163.0,43.09 L163.5,43.09 L164.0,43.09 L164.5,43.08 L165.0,43.08 L165.5,43.08 L166.0,43.08 L166.5,43.08 L167.0,43.08 L167.5,43.08 L168.0,43.08 L168.5,43.07 L169.0,43.07 L169.5,43.07 L170.0,43.07 L170.5,43.07 L171.0,43.07 L171.5,43.07 L172.0,43.06 L172.5,43.06 L173.0,43.06 L173.5,43.06 L174.0,43.06 L174.5,43.06 L175.0,43.06 L175.5,43.05 L176.0,43.05 L176.5,43.05 L177.0,43.05 L177.5,43.05 L178.0,43.05 L178.5,43.05 L179.0,43.04 L179.5,43.04 L180.0,43.04 L180.5,43.04 L181.0,43.04 L181.5,43.04 L182.0,43.04 L182.5,43.03 L183.0,43.03 L183.5,43.03 L184.0,43.03 L184.5,43.03 L185.0,43.03 L185.5,43.03 L186.0,43.02 L186.5,43.02 L187.0,43.02 L187.5,43.02 L188.0,43.02 L188.5,43.02 L189.0,43.01 L189.5,43.01 L190.0,43.01 L190.5,43.01 L191.0,43.01 L191.5,43.01 L192.0,43.01 L192.5,43.00 L193.0,43.00 L193.5,43.00 L194.0,43.00 L194.5,43.00 L195.0,43.00 L195.5,42.99 L196.0,42.99 L196.5,42.99 L197.0,42.99 L197.5,42.99 L198.0,42.99 L198.5,42.99 L199.0,42.98 L199.5,42.98 L200.0,42.98 L200.5,42.98 L201.0,42.98 L201.5,42.98 L202.0,42.97 L202.5,42.97 L203.0,42.97 L203.5,42.97 L204.0,42.97 L204.5,42.97 L205.0,42.97 L205.5,42.96 L206.0,42.96 L206.5,42.96 L207.0,42.96 L207.5,42.96 L208.0,42.96 L208.5,42.96 L209.0,42.95 L209.5,42.95 L210.0,42.95 L210.5,42.95 L211.0,42.95 L211.5,42.95 L212.0,42.95 L212.5,42.95 L213.0,42.94 L213.5,42.94 L214.0,42.94 L214.5,42.94 L215.0,42.94 L215.5,42.94 L216.0,42.94 L216.5,42.94 L217.0,42.94 L217.5,42.93 L218.0,42.93 L218.5,42.93 L219.0,42.93 L219.5,42.93 L220.0,42.93 L220.5,42.93 L221.0,42.93 L221.5,42.93 L222.0,42.92 L222.5,42.92 L223.0,42.92 L223.5,42.92 L224.0,42.92 L224.5,42.92 L225.0,42.92 L225.5,42.92 L226.0,42.92 L226.5,42.92 L227.0,42.92 L227.5,42.91 L228.0,42.91 L228.5,42.91 L229.0,42.91 L229.5,42.91 L230.0,42.91 L230.5,42.91 L231.0,42.91 L231.5,42.91 L232.0,42.91 L232.5,42.91 L233.0,42.91 L233.5,42.91 L234.0,42.91 L234.5,42.91 L235.0,42.91 L235.5,42.91 L236.0,42.91 L236.5,42.91 L237.0,42.90 L237.5,42.90 L238.0,42.90 L238.5,42.90 L239.0,42.90 L239.5,42.90 L240.0,42.90 L240.5,42.90 L241.0,42.90 L241.5,42.90 L242.0,42.90 L242.5,42.90 L243.0,42.90 L243.5,42.90 L244.0,42.90 L244.5,42.90 L245.0,42.90 L245.5,42.90 L246.0,42.90 L246.5,42.90 L247.0,42.90 L247.5,42.91 L248.0,42.91 L248.5,42.91 L249.0,42.91 L249.5,42.91 L250.0,42.91 L250.5,42.91 L251.0,42.91 L251.5,42.91 L252.0,42.91 L252.5,42.91 L253.0,42.91 L253.5,42.91 L254.0,42.91 L254.5,42.91 L255.0,42.91 L255.5,42.91 L256.0,42.92 L256.5,42.92 L257.0,42.92 L257.5,42.92 L258.0,42.92 L258.5,42.92 L259.0,42.92 L259.5,42.92 L260.0,42.92 L260.5,42.93 L261.0,42.93 L261.5,42.93 L262.0,42.93 L262.5,42.93 L263.0,42.93 L263.5,42.93 L264.0,42.94 L264.5,42.94 L265.0,42.94 L265.5,42.94 L266.0,42.94 L266.5,42.94 L267.0,42.95 L267.5,42.95 L268.0,42.95 L268.5,42.95 L269.0,42.95 L269.5,42.96 L270.0,42.96 L270.5,42.96 L271.0,42.96 L271.5,42.96 L272.0,42.97 L272.5,42.97 L273.0,42.97 L273.5,42.97 L274.0,42.98 L274.5,42.98 L275.0,42.98 L275.5,42.98 L276.0,42.99 L276.5,42.99 L277.0,42.99 L277.5,42.99 L278.0,43.00 L278.5,43.00 L279.0,43.00 L279.5,43.01 L280.0,43.01 L280.5,43.01 L281.0,43.02 L281.5,43.02 L282.0,43.02 L282.5,43.03 L283.0,43.03 L283.5,43.03 L284.0,43.04 L284.5,43.04 L285.0,43.05 L285.5,43.05 L286.0,43.05 L286.5,43.06 L287.0,43.06 L287.5,43.07 L288.0,43.07 L288.5,43.07 L289.0,43.08 L289.5,43.08 L290.0,43.09 L290.5,43.09 L291.0,43.10 L291.5,43.10 L292.0,43.11 L292.5,43.11 L293.0,43.12 L293.5,43.12 L294.0,43.13 L294.5,43.13 L295.0,43.14 L295.5,43.15 L296.0,43.15 L296.5,43.16 L297.0,43.16 L297.5,43.17 L298.0,43.18 L298.5,43.18 L299.0,43.19 L299.5,43.19 L300.0,43.20 L300.5,43.21 L301.0,43.21 L301.5,43.22 L302.0,43.23 L302.5,43.24 L303.0,43.24 L303.5,43.25 L304.0,43.26 L304.5,43.27 L305.0,43.27 L305.5,43.28 L306.0,43.29 L306.5,43.30 L307.0,43.31 L307.5,43.31 L308.0,43.32 L308.5,43.33 L309.0,43.34 L309.5,43.35 L310.0,43.36 L310.5,43.37 L311.0,43.38 L311.5,43.38 L312.0,43.39 L312.5,43.40 L313.0,43.41 L313.5,43.42 L314.0,43.43 L314.5,43.44 L315.0,43.45 L315.5,43.46 L316.0,43.47 L316.5,43.49 L317.0,43.50 L317.5,43.51 L318.0,43.52 L318.5,43.53 L319.0,43.54 L319.5,43.55 L320.0,43.56 L320.5,43.58 L321.0,43.59 L321.5,43.60 L322.0,43.61 L322.5,43.63 L323.0,43.64 L323.5,43.65 L324.0,43.66 L324.5,43.68 L325.0,43.69 L325.5,43.70 L326.0,43.72 L326.5,43.73 L327.0,43.74 L327.5,43.76 L328.0,43.77 L328.5,43.79 L329.0,43.80 L329.5,43.82 L330.0,43.83 L330.5,43.86 L331.0,43.88 L331.5,43.91 L332.0,43.93 L332.5,43.96 L333.0,43.98 L333.5,44.01 L334.0,44.03 L334.5,44.06 L335.0,44.08 L335.5,44.11 L336.0,44.14 L336.5,44.16 L337.0,44.19 L337.5,44.21 L338.0,44.23 L338.5,44.26 L339.0,44.28 L339.5,44.31 L340.0,44.33 L340.5,44.35 L341.0,44.37 L341.5,44.40 L342.0,44.42 L342.5,44.44 L343.0,44.46 L343.5,44.48 L344.0,44.50 L344.5,44.52 L345.0,44.54 L345.5,44.56 L346.0,44.58 L346.5,44.59 L347.0,44.61 L347.5,44.63 L348.0,44.64 L348.5,44.66 L349.0,44.67 L349.5,44.68 L350.0,44.70 L350.5,44.71 L351.0,44.72 L351.5,44.73 L352.0,44.74 L352.5,44.75 L353.0,44.76 L353.5,44.77 L354.0,44.78 L354.5,44.79 L355.0,44.80 L355.5,44.81 L356.0,44.82 L356.5,44.83 L357.0,44.84 L357.5,44.85 L358.0,44.86 L358.5,44.86 L359.0,44.87 L359.5,44.88 L360.0,44.89 L360.5,44.89 L361.0,44.90 L361.5,44.90 L362.0,44.91 L362.5,44.91 L363.0,44.92 L363.5,44.92 L364.0,44.93 L364.5,44.93 L365.0,44.93 L365.5,44.94 L366.0,44.94 L366.5,44.94 L367.0,44.94 L367.5,44.95 L368.0,44.95 L368.5,44.95 L369.0,44.95 L369.5,44.95 L370.0,44.95 L370.5,44.95 L371.0,44.95 L371.5,44.95 L372.0,44.95 L372.5,44.95 L373.0,44.94 L373.5,44.94 L374.0,44.94 L374.5,44.94 L375.0,44.93 L375.5,44.93 L376.0,44.93 L376.5,44.92 L377.0,44.92 L377.5,44.91 L378.0,44.91 L378.5,44.90 L379.0,44.90 L379.5,44.89 L380.0,44.89 L380.5,44.88 L381.0,44.87 L381.5,44.87 L382.0,44.86 L382.5,44.85 L383.0,44.84 L383.5,44.84 L384.0,44.83 L384.5,44.82 L385.0,44.81 L385.5,44.80 L386.0,44.79 L386.5,44.78 L387.0,44.77 L387.5,44.76 L388.0,44.75 L388.5,44.74 L389.0,44.73 L389.5,44.72 L390.0,44.70 L390.5,44.69 L391.0,44.68 L391.5,44.67 L392.0,44.65 L392.5,44.64 L393.0,44.63 L393.5,44.61 L394.0,44.60 L394.5,44.59 L395.0,44.57 L395.5,44.56 L396.0,44.54 L396.5,44.53 L397.0,44.52 L397.5,44.50 L398.0,44.49 L398.5,44.48 L399.0,44.47 L399.5,44.46 L400.0,44.45 L400.5,44.44 L401.0,44.43 L401.5,44.42 L402.0,44.41 L402.5,44.40 L403.0,44.39 L403.5,44.38 L404.0,44.37 L404.5,44.36 L405.0,44.36 L405.5,44.35 L406.0,44.34 L406.5,44.33 L407.0,44.31 L407.5,44.30 L408.0,44.29 L408.5,44.28 L409.0,44.27 L409.5,44.26 L410.0,44.24 L410.5,44.23 L411.0,44.22 L411.5,44.20 L412.0,44.18 L412.5,44.17 L413.0,44.15 L413.5,44.13 L414.0,44.11 L414.5,44.09 L415.0,44.07 L415.5,44.05 L416.0,44.03 L416.5,44.01 L417.0,43.98 L417.5,43.96 L418.0,43.94 L418.5,43.91 L419.0,43.89 L419.5,43.86 L420.0,43.84 L420.5,43.81 L421.0,43.79 L421.5,43.76 L422.0,43.73 L422.5,43.71 L423.0,43.68 L423.5,43.65 L424.0,43.62 L424.5,43.60 L425.0,43.57 L425.5,43.54 L426.0,43.51 L426.5,43.48 L427.0,43.45 L427.5,43.42 L428.0,43.39 L428.5,43.36 L429.0,43.33 L429.5,43.30 L430.0,43.26 L430.5,43.23 L431.0,43.20 L431.5,43.17 L432.0,43.13 L432.5,43.10 L433.0,43.07 L433.5,43.04 L434.0,43.00 L434.5,42.97 L435.0,42.94 L435.5,42.90 L436.0,42.87 L436.5,42.83 L437.0,42.80"/>
</g>
<path d="M62.50,281.5 v-4.5 M62.50,15.5 v4.5 M83.77,281.5 v-2.3 M83.77,15.5 v2.3 M111.88,281.5 v-2.3 M111.88,15.5 v2.3 M126.30,281.5 v-2.3 M126.30,15.5 v2.3 M133.15,281.5 v-4.5 M133.15,15.5 v4.5 M154.41,281.5 v-2.3 M154.41,15.5 v2.3 M182.53,281.5 v-2.3 M182.53,15.5 v2.3 M196.95,281.5 v-2.3 M196.95,15.5 v2.3 M203.79,281.5 v-4.5 M203.79,15.5 v4.5 M225.06,281.5 v-2.3 M225.06,15.5 v2.3 M253.17,281.5 v-2.3 M253.17,15.5 v2.3 M267.59,281.5 v-2.3 M267.59,15.5 v2.3 M274.44,281.5 v-4.5 M274.44,15.5 v4.5 M295.71,281.5 v-2.3 M295.71,15.5 v2.3 M323.82,281.5 v-2.3 M323.82,15.5 v2.3 M338.24,281.5 v-2.3 M338.24,15.5 v2.3 M345.09,281.5 v-4.5 M345.09,15.5 v4.5 M366.35,281.5 v-2.3 M366.35,15.5 v2.3 M394.47,281.5 v-2.3 M394.47,15.5 v2.3 M408.89,281.5 v-2.3 M408.89,15.5 v2.3 M415.73,281.5 v-4.5 M415.73,15.5 v4.5 M437.00,281.5 v-2.3 M437.00,15.5 v2.3 M62.5,281.50 h4.5 M437.0,281.50 h-4.5 M62.5,237.00 h4.5 M437.0,237.00 h-4.5 M62.5,192.50 h4.5 M437.0,192.50 h-4.5 M62.5,148.50 h4.5 M437.0,148.50 h-4.5 M62.5,104.00 h4.5 M437.0,104.00 h-4.5 M62.5,59.50 h4.5 M437.0,59.50 h-4.5 M62.5,15.50 h4.5 M437.0,15.50 h-4.5" stroke="#1c1c1c" stroke-width="1" fill="none"/>
<rect x="62.5" y="15.5" width="374.5" height="266.0" fill="none" stroke="#1c1c1c" stroke-width="1"/>
<g font-family="'Liberation Mono', monospace" font-size="12" letter-spacing="0.6" fill="#404040">
<text x="55.5" y="286.50" text-anchor="end">1</text>
<text x="55.5" y="242.00" text-anchor="end">1.5</text>
<text x="55.5" y="197.50" text-anchor="end">2</text>
<text x="55.5" y="153.50" text-anchor="end">2.5</text>
<text x="55.5" y="109.00" text-anchor="end">3</text>
<text x="55.5" y="64.50" text-anchor="end">3.5</text>
<text x="55.5" y="20.50" text-anchor="end">4</text>
<text x="66.10" y="299.2" text-anchor="middle">0.01</text>
<text x="136.75" y="299.2" text-anchor="middle">0.1</text>
<text x="207.39" y="299.2" text-anchor="middle">1</text>
<text x="278.04" y="299.2" text-anchor="middle">10</text>
<text x="348.69" y="299.2" text-anchor="middle">100</text>
<text x="419.33" y="299.2" text-anchor="middle">1000</text>
<text x="249.4" y="317.9" text-anchor="middle" font-size="11.8" letter-spacing="0.56">Pulse duration (fs)</text>
<text transform="translate(15.0,147.7) rotate(-90)" text-anchor="middle" font-size="11.8" letter-spacing="0.61">3C/3D line intensity ratio</text>
</g>
</svg>
</body></html>
